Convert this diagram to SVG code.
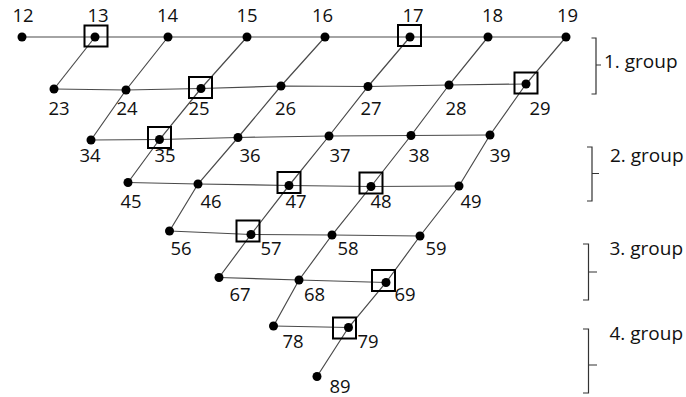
<svg xmlns="http://www.w3.org/2000/svg" width="686" height="397" viewBox="0 0 686 397">
<style>
.e{stroke:#4a4a4a;stroke-width:1.2;fill:none}
.d{fill:#000}
.b{fill:none;stroke:#000;stroke-width:2}
.t{font-family:"Open Sans","Liberation Sans",Arial,sans-serif;font-size:18.5px;fill:#111;text-anchor:middle}
.g{font-family:"Open Sans","Liberation Sans",Arial,sans-serif;font-size:19px;fill:#111}
.br{stroke:#333;stroke-width:1.2;fill:none}
</style>
<rect width="686" height="397" fill="#fff"/>
<g id="connectors">
<path class="e" d="M22,37 L95,37 L168,37 L247,37 L325,37 L410,37 L488,37 L566,37"/>
<path class="e" d="M54,89 L126,90 L201,88.5 L281,86 L368,86.5 L449,85 L526,84"/>
<path class="e" d="M91,140 L159.5,139.5 L238,137.5 L329,136 L411,135.5 L490,135"/>
<path class="e" d="M128,182.5 L198,184 L289,185.5 L371,186.5 L459,186"/>
<path class="e" d="M169.5,231 L251,234.5 L332,235 L420,236"/>
<path class="e" d="M219,277.5 L299,280 L386,282.5"/>
<path class="e" d="M273.5,326 L348.5,327.5"/>
<path class="e" d="M95,37 L54,89"/>
<path class="e" d="M168,37 L126,90 L91,140"/>
<path class="e" d="M247,37 L201,88.5 L159.5,139.5 L128,182.5"/>
<path class="e" d="M325,37 L281,86 L238,137.5 L198,184 L169.5,231"/>
<path class="e" d="M410,37 L368,86.5 L329,136 L289,185.5 L251,234.5 L219,277.5"/>
<path class="e" d="M488,37 L449,85 L411,135.5 L371,186.5 L332,235 L299,280 L273.5,326"/>
<path class="e" d="M566,37 L526,84 L490,135 L459,186 L420,236 L386,282.5 L348.5,327.5 L317,376.5"/>
</g>
<g id="n12"><circle class="d" cx="22" cy="37" r="4.5"/><text class="t" x="23" y="22">12</text></g>
<g id="n13"><circle class="d" cx="95" cy="37" r="4.5"/><rect class="b" x="84.5" y="25.5" width="23" height="21"/><text class="t" x="98" y="22">13</text></g>
<g id="n14"><circle class="d" cx="168" cy="37" r="4.5"/><text class="t" x="167.5" y="22">14</text></g>
<g id="n15"><circle class="d" cx="247" cy="37" r="4.5"/><text class="t" x="247" y="22">15</text></g>
<g id="n16"><circle class="d" cx="325" cy="37" r="4.5"/><text class="t" x="322.5" y="22">16</text></g>
<g id="n17"><circle class="d" cx="410" cy="37" r="4.5"/><rect class="b" x="398" y="25" width="23" height="21"/><text class="t" x="413" y="22">17</text></g>
<g id="n18"><circle class="d" cx="488" cy="37" r="4.5"/><text class="t" x="492.5" y="22">18</text></g>
<g id="n19"><circle class="d" cx="566" cy="37" r="4.5"/><text class="t" x="567.5" y="22">19</text></g>
<g id="n23"><circle class="d" cx="54" cy="89" r="4.5"/><text class="t" x="59" y="115">23</text></g>
<g id="n24"><circle class="d" cx="126" cy="90" r="4.5"/><text class="t" x="127" y="115">24</text></g>
<g id="n25"><circle class="d" cx="201" cy="88.5" r="4.5"/><rect class="b" x="189" y="77" width="23" height="21"/><text class="t" x="199" y="115">25</text></g>
<g id="n26"><circle class="d" cx="281" cy="86" r="4.5"/><text class="t" x="285.5" y="115">26</text></g>
<g id="n27"><circle class="d" cx="368" cy="86.5" r="4.5"/><text class="t" x="371" y="115">27</text></g>
<g id="n28"><circle class="d" cx="449" cy="85" r="4.5"/><text class="t" x="456" y="115">28</text></g>
<g id="n29"><circle class="d" cx="526" cy="84" r="4.5"/><rect class="b" x="514.5" y="72.5" width="23" height="21"/><text class="t" x="540" y="115">29</text></g>
<g id="n34"><circle class="d" cx="91" cy="140" r="4.5"/><text class="t" x="90" y="161.5">34</text></g>
<g id="n35"><circle class="d" cx="159.5" cy="139.5" r="4.5"/><rect class="b" x="148" y="127" width="23" height="21"/><text class="t" x="165" y="161.5">35</text></g>
<g id="n36"><circle class="d" cx="238" cy="137.5" r="4.5"/><text class="t" x="250" y="161.5">36</text></g>
<g id="n37"><circle class="d" cx="329" cy="136" r="4.5"/><text class="t" x="340" y="161.5">37</text></g>
<g id="n38"><circle class="d" cx="411" cy="135.5" r="4.5"/><text class="t" x="419" y="161.5">38</text></g>
<g id="n39"><circle class="d" cx="490" cy="135" r="4.5"/><text class="t" x="500" y="161.5">39</text></g>
<g id="n45"><circle class="d" cx="128" cy="182.5" r="4.5"/><text class="t" x="131" y="208">45</text></g>
<g id="n46"><circle class="d" cx="198" cy="184" r="4.5"/><text class="t" x="211" y="208">46</text></g>
<g id="n47"><circle class="d" cx="289" cy="185.5" r="4.5"/><rect class="b" x="277.5" y="172" width="23" height="21"/><text class="t" x="296" y="208">47</text></g>
<g id="n48"><circle class="d" cx="371" cy="186.5" r="4.5"/><rect class="b" x="359.5" y="172.5" width="23" height="21"/><text class="t" x="381" y="208">48</text></g>
<g id="n49"><circle class="d" cx="459" cy="186" r="4.5"/><text class="t" x="471" y="208">49</text></g>
<g id="n56"><circle class="d" cx="169.5" cy="231" r="4.5"/><text class="t" x="181" y="254.5">56</text></g>
<g id="n57"><circle class="d" cx="251" cy="234.5" r="4.5"/><rect class="b" x="236.5" y="220.5" width="23" height="21"/><text class="t" x="271" y="254.5">57</text></g>
<g id="n58"><circle class="d" cx="332" cy="235" r="4.5"/><text class="t" x="348" y="254.5">58</text></g>
<g id="n59"><circle class="d" cx="420" cy="236" r="4.5"/><text class="t" x="436" y="254.5">59</text></g>
<g id="n67"><circle class="d" cx="219" cy="277.5" r="4.5"/><text class="t" x="240" y="301">67</text></g>
<g id="n68"><circle class="d" cx="299" cy="280" r="4.5"/><text class="t" x="314.5" y="301">68</text></g>
<g id="n69"><circle class="d" cx="386" cy="282.5" r="4.5"/><rect class="b" x="372" y="270" width="23" height="21"/><text class="t" x="405" y="301">69</text></g>
<g id="n78"><circle class="d" cx="273.5" cy="326" r="4.5"/><text class="t" x="293" y="348">78</text></g>
<g id="n79"><circle class="d" cx="348.5" cy="327.5" r="4.5"/><rect class="b" x="333" y="317.5" width="23" height="21"/><text class="t" x="368" y="348">79</text></g>
<g id="n89"><circle class="d" cx="317" cy="376.5" r="4.5"/><text class="t" x="340" y="392.5">89</text></g>
<g id="group1"><path class="br" d="M591.5,38 H596 V94 H591.5 M596,65 H601"/><text class="g" x="604" y="68">1. group</text></g>
<g id="group2"><path class="br" d="M587,147 H592 V201 H587 M592,173.5 H599"/><text class="g" x="610" y="162">2. group</text></g>
<g id="group3"><path class="br" d="M583,244 H588.5 V300 H583 M588.5,272 H597"/><text class="g" x="609.5" y="255">3. group</text></g>
<g id="group4"><path class="br" d="M583,329 H588.5 V393 H583 M588.5,365 H597"/><text class="g" x="609.5" y="340">4. group</text></g>
</svg>
